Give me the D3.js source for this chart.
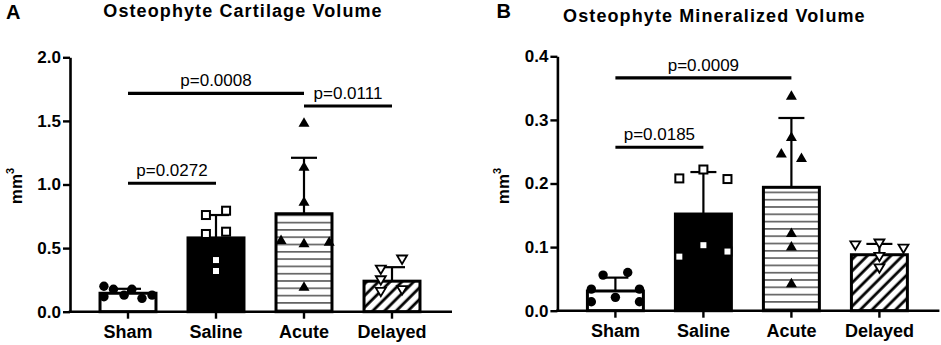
<!DOCTYPE html>
<html>
<head>
<meta charset="utf-8">
<script src="https://cdn.jsdelivr.net/npm/d3@7"></script>
<style>
  body { margin: 0; background: #fff; }
  svg { display: block; font-family: "Liberation Sans", Arial, sans-serif; }
</style>
</head>
<body>
<div id="chart"></div>
<script>
const categories = ['Sham', 'Saline', 'Acute', 'Delayed'];

// panel A: osteophyte cartilage volume (mm3)
const cartilageMeans = [0.145, 0.58, 0.77, 0.24];
const cartilageSD = [0.035, 0.18, 0.44, 0.11];
const cartilagePoints = [
    [0.20, 0.118, 0.176, 0.13, 0.176, 0.105, 0.13],
    [0.76, 0.611, 0.406, 0.32, 0.794, 0.629],
    [0.564, 1.486, 1.14, 0.865, 0.538, 0.197, 0.55],
    [0.333, 0.249, 0.157, 0.412, 0.171]
];
const cartilageTicks = [0, 0.5, 1.0, 1.5, 2.0];
const cartilageBrackets = [
    {from: 'Sham', to: 'Acute', y: 1.717, label: 'p=0.0008'},
    {from: 'Acute', to: 'Delayed', y: 1.617, label: 'p=0.0111'},
    {from: 'Sham', to: 'Saline', y: 1.01, label: 'p=0.0272'}
];

// panel B: osteophyte mineralized volume (mm3)
const mineralMeans = [0.031, 0.152, 0.194, 0.088];
const mineralSD = [0.021, 0.066, 0.109, 0.017];
const mineralPoints = [
    [0.034, 0.014, 0.056, 0.021, 0.060, 0.034, 0.014],
    [0.208, 0.085, 0.222, 0.103, 0.207, 0.093],
    [0.247, 0.338, 0.273, 0.122, 0.101, 0.043, 0.240],
    [0.103, 0.106, 0.085, 0.067, 0.098]
];
const mineralTicks = [0, 0.1, 0.2, 0.3, 0.4];
const mineralBrackets = [
    {from: 'Sham', to: 'Acute', y: 0.366, label: 'p=0.0009'},
    {from: 'Sham', to: 'Saline', y: 0.257, label: 'p=0.0185'}
];

// horizontal scatter of the dots, as a fraction of bar width (layout only)
const cartilageJitter = [
    [-0.43, -0.43, -0.26, -0.07, 0.07, 0.25, 0.43],
    [-0.18, -0.18, 0, 0, 0.18, 0.18],
    [-0.41, 0, 0, 0, 0, 0, 0.45],
    [-0.2, -0.2, -0.2, 0.18, 0.18]
];
const mineralJitter = [
    [-0.43, -0.43, -0.22, 0, 0.22, 0.43, 0.43],
    [-0.43, -0.43, 0, 0, 0.43, 0.43],
    [-0.18, 0, 0, 0, 0, 0, 0.18],
    [-0.43, 0, 0, 0, 0.43]
];

const width = 941, height = 345;
const svg = d3.select('#chart').append('svg')
    .attr('width', width).attr('height', height);

const defs = svg.append('defs');
const hLines = defs.append('pattern').attr('id', 'hlines')
    .attr('patternUnits', 'userSpaceOnUse').attr('width', 8).attr('height', 7.3);
hLines.append('rect').attr('width', 8).attr('height', 7.3).attr('fill', '#fff');
hLines.append('line').attr('x1', 0).attr('x2', 8).attr('y1', 3.6).attr('y2', 3.6)
    .attr('stroke', '#333').attr('stroke-width', 1.3);
const diag = defs.append('pattern').attr('id', 'diag')
    .attr('patternUnits', 'userSpaceOnUse').attr('width', 8.3).attr('height', 8.3)
    .attr('patternTransform', 'rotate(45)');
diag.append('rect').attr('width', 8.3).attr('height', 8.3).attr('fill', '#fff');
diag.append('line').attr('x1', 2).attr('x2', 2).attr('y1', 0).attr('y2', 8.3)
    .attr('stroke', '#000').attr('stroke-width', 2.8);

const fills = ['#fff', '#000', 'url(#hlines)', 'url(#diag)'];
const shapes = ['circle', 'square', 'triangle', 'down'];

function marker(sel, shape) {
    if (shape === 'circle') {
        sel.append('circle').attr('r', 4.7).attr('fill', '#000');
    } else if (shape === 'square') {
        sel.append('rect').attr('x', -4).attr('y', -4).attr('width', 8).attr('height', 8)
            .attr('fill', '#fff').attr('stroke', '#000').attr('stroke-width', 2);
    } else if (shape === 'triangle') {
        sel.append('path').attr('d', 'M0,-5.5L5.5,4L-5.5,4Z').attr('fill', '#000');
    } else {
        sel.append('path').attr('d', 'M-5,-3.8L5,-3.8L0,4.6Z')
            .attr('fill', '#fff').attr('stroke', '#000').attr('stroke-width', 1.8);
    }
}

function drawPanel(cfg) {
    const g = svg.append('g').attr('transform', `translate(${cfg.dx},${cfg.dy})`);
    const axisX = 70, baseY = 311.7, topY = 57.3;

    const x = d3.scaleBand().domain(categories).range([84, 436])
        .paddingInner(0.364).paddingOuter(0.182);
    const y = d3.scaleLinear().domain([0, cfg.yMax]).range([baseY, topY]);
    const bw = x.bandwidth();

    // bars
    g.selectAll('.bar').data(cfg.means).join('rect')
        .attr('x', (d, i) => x(categories[i]))
        .attr('y', d => y(d))
        .attr('width', bw)
        .attr('height', d => baseY - y(d))
        .attr('fill', (d, i) => fills[i])
        .attr('stroke', '#000').attr('stroke-width', 3);

    // error bars (upper half only)
    cfg.means.forEach((m, i) => {
        const cx = x(categories[i]) + bw / 2;
        const top = y(m + cfg.sd[i]);
        g.append('line').attr('x1', cx).attr('x2', cx).attr('y1', y(m)).attr('y2', top)
            .attr('stroke', '#000').attr('stroke-width', 2.2);
        g.append('line').attr('x1', cx - 13).attr('x2', cx + 13).attr('y1', top).attr('y2', top)
            .attr('stroke', '#000').attr('stroke-width', 2.2);
    });

    // individual points
    cfg.points.forEach((pts, i) => {
        const cx = x(categories[i]) + bw / 2;
        pts.forEach((v, j) => {
            const p = g.append('g')
                .attr('transform', `translate(${cx + cfg.jitter[i][j] * bw},${y(v)})`);
            marker(p, shapes[i]);
        });
    });

    // axes
    const yAxis = d3.axisLeft(y).tickValues(cfg.ticks).tickSize(7).tickSizeOuter(0)
        .tickFormat(cfg.fmt);
    const ya = g.append('g').attr('transform', `translate(${axisX},0)`).call(yAxis);
    ya.select('.domain').attr('stroke-width', 2.6);
    ya.selectAll('.tick line').attr('stroke-width', 2.4);
    ya.selectAll('.tick text').attr('font-size', 17).attr('font-weight', 'bold')
        .attr('font-family', '"Liberation Sans", Arial, sans-serif').attr('fill', '#000').attr('x', -9);

    const xAxis = d3.axisBottom(x).tickSize(7).tickSizeOuter(0);
    const xa = g.append('g').attr('transform', `translate(0,${baseY})`).call(xAxis);
    xa.select('.domain').remove();
    xa.selectAll('.tick line').attr('stroke-width', 2.4);
    xa.selectAll('.tick text').attr('font-size', 18).attr('font-weight', 'bold')
        .attr('font-family', '"Liberation Sans", Arial, sans-serif').attr('fill', '#000')
        .attr('dy', null).attr('y', 26.6);
    g.append('line').attr('x1', axisX - 1.3).attr('x2', 452).attr('y1', baseY).attr('y2', baseY)
        .attr('stroke', '#000').attr('stroke-width', 2.6);

    // significance brackets
    cfg.brackets.forEach(b => {
        const x1 = x(b.from) + bw / 2, x2 = x(b.to) + bw / 2;
        const by = y(b.y);
        g.append('line').attr('x1', x1).attr('x2', x2).attr('y1', by).attr('y2', by)
            .attr('stroke', '#000').attr('stroke-width', 3.2);
        g.append('text').attr('x', (x1 + x2) / 2).attr('y', by - 7)
            .attr('text-anchor', 'middle').attr('font-size', 17).text(b.label);
    });

    // y label with superscript
    const yl = g.append('text')
        .attr('transform', `translate(${axisX - 48},${cfg.labelY}) rotate(-90)`)
        .attr('text-anchor', 'middle').attr('font-size', 17).attr('font-weight', 'bold');
    yl.append('tspan').text('mm');
    yl.append('tspan').attr('font-size', 11).attr('dy', -8).text('3');

    // title and panel letter
    g.append('text').attr('x', cfg.titleX).attr('y', cfg.titleY)
        .attr('text-anchor', 'middle').attr('font-size', 18).attr('font-weight', 'bold')
        .attr('letter-spacing', 1.1).text(cfg.title);
    g.append('text').attr('x', cfg.letterX).attr('y', cfg.letterY)
        .attr('font-size', 20).attr('font-weight', 'bold').text(cfg.letter);
}

drawPanel({
    dx: 0, dy: 0, yMax: 2, ticks: cartilageTicks, fmt: d3.format('.1f'),
    means: cartilageMeans, sd: cartilageSD, points: cartilagePoints, jitter: cartilageJitter,
    brackets: cartilageBrackets, title: 'Osteophyte Cartilage Volume', titleX: 243, titleY: 17,
    letter: 'A', letterX: 6, letterY: 19, labelY: 186
});
drawPanel({
    dx: 487.4, dy: -1, yMax: 0.4, ticks: mineralTicks, fmt: d3.format('.1f'),
    means: mineralMeans, sd: mineralSD, points: mineralPoints, jitter: mineralJitter,
    brackets: mineralBrackets, title: 'Osteophyte Mineralized Volume', titleX: 227, titleY: 23,
    letter: 'B', letterX: 9, letterY: 19, labelY: 187
});
</script>
</body>
</html>
